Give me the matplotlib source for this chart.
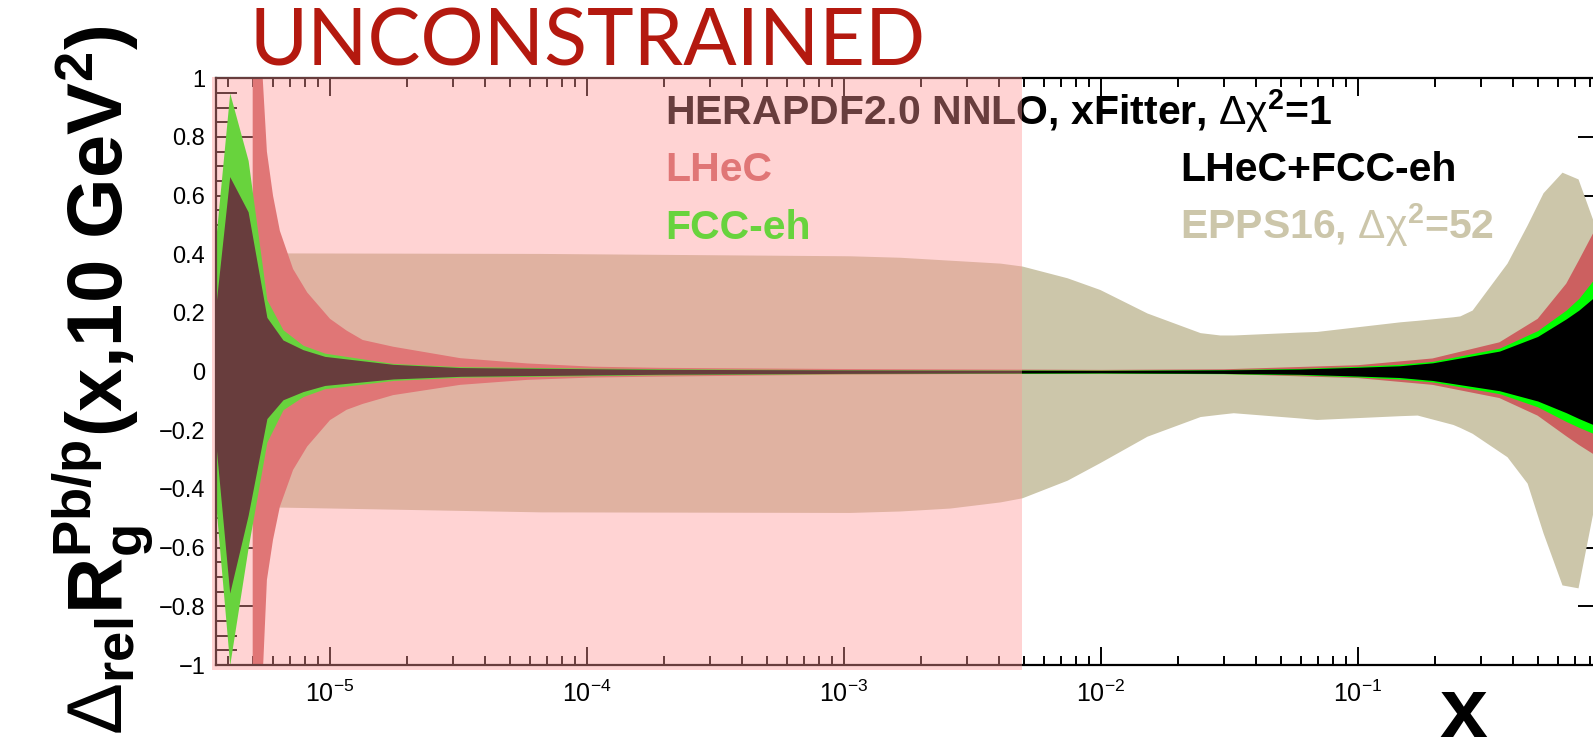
import numpy as np
import matplotlib.pyplot as plt
from matplotlib.patches import Rectangle
from matplotlib.ticker import MultipleLocator, LogLocator, NullFormatter

plt.rcParams['font.family'] = ['Liberation Sans', 'DejaVu Sans']
plt.rcParams['mathtext.fontset'] = 'custom'
plt.rcParams['mathtext.rm'] = 'Liberation Sans'
plt.rcParams['mathtext.bf'] = 'Liberation Sans:bold'
plt.rcParams['mathtext.it'] = 'Liberation Sans:italic'

# LHeC+FCC-eh (black) and FCC-eh (green) bands share the same x points
x_comb = [3.59e-6, 4.07e-6, 4.80e-6, 5.68e-6, 6.56e-6, 7.85e-6, 9.55e-6, 1.76e-5, 3.21e-5,
          1.92e-4, 1e-3, 1e-2, 3e-2, 5.9e-2, 1e-1, 1.45e-1, 1.95e-1, 3.55e-1, 5.0e-1,
          6.46e-1, 7.24e-1, 8.2e-1, 1.0]
comb_up = [0.22, 0.665, 0.545, 0.185, 0.108, 0.075, 0.052, 0.025, 0.014, 0.008, 0.006, 0.004,
           0.006, 0.009, 0.015, 0.02, 0.03, 0.07, 0.12, 0.18, 0.21, 0.25, 0.30]
comb_low = [-0.24, -0.755, -0.49, -0.16, -0.096, -0.068, -0.047, -0.025, -0.016, -0.009, -0.006,
            -0.004, -0.006, -0.009, -0.015, -0.02, -0.03, -0.065, -0.10, -0.14, -0.16, -0.18, -0.21]
fcc_up = [0.45, 0.95, 0.72, 0.245, 0.143, 0.09, 0.063, 0.028, 0.017, 0.010, 0.007, 0.005,
          0.007, 0.011, 0.018, 0.025, 0.035, 0.08, 0.14, 0.21, 0.25, 0.31, 0.40]
fcc_low = [-0.45, -1.0, -0.60, -0.24, -0.13, -0.085, -0.058, -0.03, -0.019, -0.011, -0.007,
           -0.005, -0.007, -0.011, -0.018, -0.025, -0.035, -0.075, -0.12, -0.17, -0.19, -0.21, -0.25]

# LHeC (red)
x_lhec = [5.0e-6, 5.43e-6, 5.68e-6, 6.0e-6, 6.38e-6, 7.18e-6, 8.15e-6, 1.0e-5, 1.16e-5, 1.34e-5,
          1.76e-5, 3.21e-5, 5.85e-5, 1.05e-4, 1.92e-4, 1e-3, 1e-2, 3e-2, 1e-1, 1.95e-1,
          3.55e-1, 5.0e-1, 6.46e-1, 7.24e-1, 8.2e-1, 1.0]
lhec_up = [1.3, 1.05, 0.75, 0.6, 0.48, 0.35, 0.27, 0.18, 0.14, 0.108, 0.085, 0.046, 0.028,
           0.017, 0.013, 0.009, 0.006, 0.008, 0.022, 0.045, 0.10, 0.18, 0.30, 0.38, 0.47, 0.62]
lhec_low = [-1.3, -1.1, -0.71, -0.573, -0.46, -0.335, -0.255, -0.165, -0.13, -0.11, -0.08,
            -0.045, -0.028, -0.02, -0.017, -0.01, -0.006, -0.008, -0.022, -0.045, -0.09,
            -0.15, -0.22, -0.25, -0.28, -0.33]

# EPPS16 (tan)
x_epps = [5.0e-6, 6.6e-5, 1.05e-3, 1.65e-3, 2.58e-3, 4.05e-3, 4.93e-3, 7.38e-3, 9.9e-3, 1.51e-2,
          2.43e-2, 2.9e-2, 3.27e-2, 5.95e-2, 6.9e-2, 1.46e-1, 1.7e-1, 2.34e-1, 2.49e-1,
          2.78e-1, 3.8e-1, 4.55e-1, 5.25e-1, 6.22e-1, 7.18e-1, 8.2e-1, 1.0]
epps_up = [0.405, 0.403, 0.395, 0.39, 0.38, 0.37, 0.36, 0.32, 0.28, 0.20, 0.133, 0.125, 0.125,
           0.135, 0.137, 0.17, 0.175, 0.187, 0.19, 0.21, 0.37, 0.50, 0.61, 0.68, 0.657, 0.517, 0.31]
epps_low = [-0.46, -0.478, -0.48, -0.475, -0.465, -0.444, -0.43, -0.37, -0.31, -0.22, -0.153,
            -0.145, -0.14, -0.158, -0.163, -0.15, -0.148, -0.18, -0.19, -0.21, -0.29, -0.38,
            -0.55, -0.727, -0.737, -0.48, -0.30]

y_ticks = [-1, -0.8, -0.6, -0.4, -0.2, 0, 0.2, 0.4, 0.6, 0.8, 1]
y_labels = ['\u22121', '\u22120.8', '\u22120.6', '\u22120.4', '\u22120.2', '0',
            '0.2', '0.4', '0.6', '0.8', '1']
x_ticks = [1e-5, 1e-4, 1e-3, 1e-2, 1e-1]
x_labels = [r'$10^{-5}$', r'$10^{-4}$', r'$10^{-3}$', r'$10^{-2}$', r'$10^{-1}$']

c_comb = 'black'
c_fcc = '#00FF00'
c_lhec = '#CC6060'
c_epps = '#CCC6AA'

W, H = 1593, 756
fig = plt.figure(figsize=(W / 100, H / 100), dpi=100)
# axes run past the right edge of the picture (x=1 is cut off)
ax = fig.add_axes([215.7 / W, 1 - 665 / H, (1615 - 215.7) / W, (665 - 78.3) / H])

ax.fill_between(x_epps, epps_low, epps_up, color=c_epps, lw=0, zorder=1.0)
ax.fill_between(x_lhec, lhec_low, lhec_up, color=c_lhec, lw=0, zorder=1.1)
ax.fill_between(x_comb, fcc_low, fcc_up, color=c_fcc, lw=0, zorder=1.2)
ax.fill_between(x_comb, comb_low, comb_up, color=c_comb, lw=0, zorder=1.3)

ax.set_xscale('log')
ax.set_xlim(3.59e-6, 1.0)
ax.set_ylim(-1, 1)
ax.set_axisbelow(True)

ax.set_xticks(x_ticks)
ax.set_xticklabels(x_labels)
ax.xaxis.set_minor_locator(LogLocator(base=10, subs=np.arange(2, 10), numticks=20))
ax.xaxis.set_minor_formatter(NullFormatter())
ax.set_yticks(y_ticks)
ax.set_yticklabels(y_labels)
ax.yaxis.set_minor_locator(MultipleLocator(0.05))

ax.tick_params(axis='both', which='both', direction='in', top=True, right=True,
               width=1.4, color='black')
ax.tick_params(axis='x', which='major', length=13, pad=11, labelsize=18)
ax.tick_params(axis='x', which='minor', length=6.5)
ax.tick_params(axis='y', which='major', length=26.6, pad=7.5, labelsize=17)
ax.tick_params(axis='y', which='minor', length=15)
for s in ax.spines.values():
    s.set_linewidth(1.6)

# legend texts
chi2 = r'$\Delta\mathrm{\chi}^{\mathbf{2}}$'
fig.text(665 / W, 1 - 125 / H, 'HERAPDF2.0 NNLO, xFitter, ' + chi2 + '=1',
         fontsize=29.5, fontweight='bold', color='black')
fig.text(665 / W, 1 - 181 / H, 'LHeC', fontsize=29.5, fontweight='bold', color=c_lhec)
fig.text(665 / W, 1 - 239 / H, 'FCC-eh', fontsize=29.5, fontweight='bold', color=c_fcc)
fig.text(1180 / W, 1 - 181 / H, 'LHeC+FCC-eh', fontsize=29.5, fontweight='bold', color='black')
fig.text(1180 / W, 1 - 239 / H, 'EPPS16, ' + chi2 + '=52', fontsize=29.5,
         fontweight='bold', color=c_epps)

# axis titles
fig.text(103 / W, 1 - 380 / H,
         r'$\Delta_{\mathbf{rel}}\mathbf{R}_{\mathbf{g}}^{\mathbf{Pb/p}}\mathbf{(x{,}10\ GeV}^{\mathbf{2}}\mathbf{)}$',
         rotation=90, ha='center', va='center', fontsize=56)
fig.text(1463 / W, 1 - 737 / H, 'x', fontsize=62, fontweight='bold', ha='center', va='baseline')

# unconstrained region overlay
fig.text(249 / W, 1 - 66 / H, 'UNCONSTRAINED', fontsize=57, family='Lato', color='#B4190F',
         ha='left', va='baseline')
fig.add_artist(Rectangle((211.7 / W, 1 - 670 / H), (1021.7 - 211.7) / W, (670 - 77) / H,
                         transform=fig.transFigure, facecolor=(1.0, 0.588, 0.588), alpha=0.41,
                         edgecolor='none', zorder=10))

fig.savefig('out.png', dpi=100)
